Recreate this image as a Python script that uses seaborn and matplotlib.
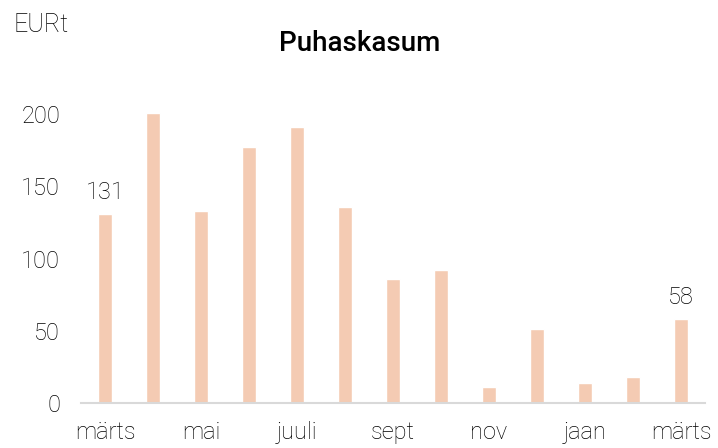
import matplotlib
matplotlib.use("Agg")
import matplotlib.pyplot as plt
import seaborn as sns
import pandas as pd

months = ["märts", "apr", "mai", "juuni", "juuli", "aug", "sept", "okt",
          "nov", "dets", "jaan", "veebr", "märts "]
values = [131, 201, 133, 177, 191, 136, 86, 92, 11, 51, 14, 18, 58]
tick_labels = ["märts", "", "mai", "", "juuli", "", "sept", "", "nov", "", "jaan", "", "märts"]
labelled = {0: "131", 12: "58"}

sns.set_theme(style="white")
plt.rcParams["font.family"] = ["Roboto", "DejaVu Sans"]

df = pd.DataFrame({"kuu": range(len(values)), "väärtus": values})

fig = plt.figure(figsize=(7.18, 4.48), dpi=100)
ax = fig.add_axes([0.1128, 0.1004, 0.8691, 0.6773])
sns.barplot(data=df, x="kuu", y="väärtus", color="#F4CBB3", saturation=1,
            width=0.31, ax=ax)

ax.set_xlim(-0.5, len(values) - 0.5)
ax.set_ylim(0, 210)
ax.set_yticks([0, 50, 100, 150, 200])
ax.set_xticks(range(len(values)))
ax.set_xticklabels(tick_labels)
ax.set_xlabel("")
ax.set_ylabel("")

for s in ["top", "right", "left"]:
    ax.spines[s].set_visible(False)
ax.spines["bottom"].set_color("#D9D9D9")
ax.spines["bottom"].set_linewidth(1.5)
ax.tick_params(axis="both", length=0, labelsize=17, colors="black")
ax.tick_params(axis="y", pad=15)
ax.tick_params(axis="x", pad=13)
for t in ax.get_xticklabels() + ax.get_yticklabels():
    t.set_fontweight("light")

for i, txt in labelled.items():
    ax.annotate(txt, (i, values[i]), xytext=(0, 7), textcoords="offset points",
                ha="center", va="bottom", fontsize=17, fontweight="light",
                color="black")

fig.text(0.5014, 0.904, "Puhaskasum", ha="center", va="center",
         fontsize=20, fontweight="medium", color="black")
fig.text(0.019, 0.944, "EURt", ha="left", va="center", fontsize=18,
         fontweight="light", color="black")

fig.savefig("out.png", dpi=100)
